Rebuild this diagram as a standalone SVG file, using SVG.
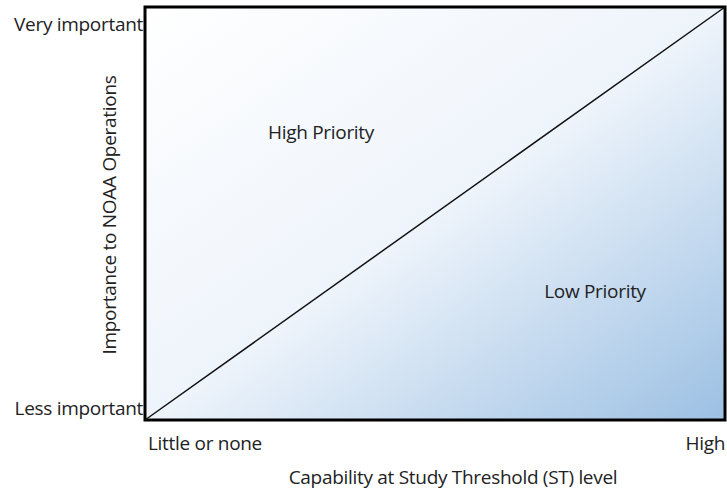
<svg xmlns="http://www.w3.org/2000/svg" width="727" height="491" viewBox="0 0 727 491">
  <style>
    .lbl { font-family: "Open Sans", "Liberation Sans", sans-serif; font-size: 19px; fill: #222; letter-spacing: -0.3px; }
  </style>
  <defs>
    <linearGradient id="field" x1="0" y1="0" x2="1" y2="1">
      <stop offset="0" stop-color="#ffffff"/>
      <stop offset="0.5" stop-color="#eef4fb"/>
      <stop offset="1" stop-color="#9cc0e3"/>
    </linearGradient>
  </defs>
  <rect width="727" height="491" fill="#ffffff"/>
  <g id="plot">
    <rect x="145" y="7" width="580" height="413" fill="url(#field)" stroke="#000" stroke-width="3"/>
  </g>
  <g id="connectors">
    <line x1="145" y1="420" x2="725" y2="7" stroke="#111" stroke-width="1.5"/>
  </g>
  <g id="high-priority"><text class="lbl" x="321" y="139" text-anchor="middle">High Priority</text></g>
  <g id="low-priority"><text class="lbl" x="595" y="298" text-anchor="middle">Low Priority</text></g>
  <g id="axis-labels">
    <text class="lbl" x="143" y="31" text-anchor="end">Very important</text>
    <text class="lbl" x="143" y="415" text-anchor="end">Less important</text>
    <text class="lbl" x="148" y="450">Little or none</text>
    <text class="lbl" x="725" y="450" text-anchor="end">High</text>
    <text class="lbl" x="453" y="484" text-anchor="middle">Capability at Study Threshold (ST) level</text>
    <text class="lbl" transform="translate(116,215) rotate(-90)" text-anchor="middle">Importance to NOAA Operations</text>
  </g>
</svg>
